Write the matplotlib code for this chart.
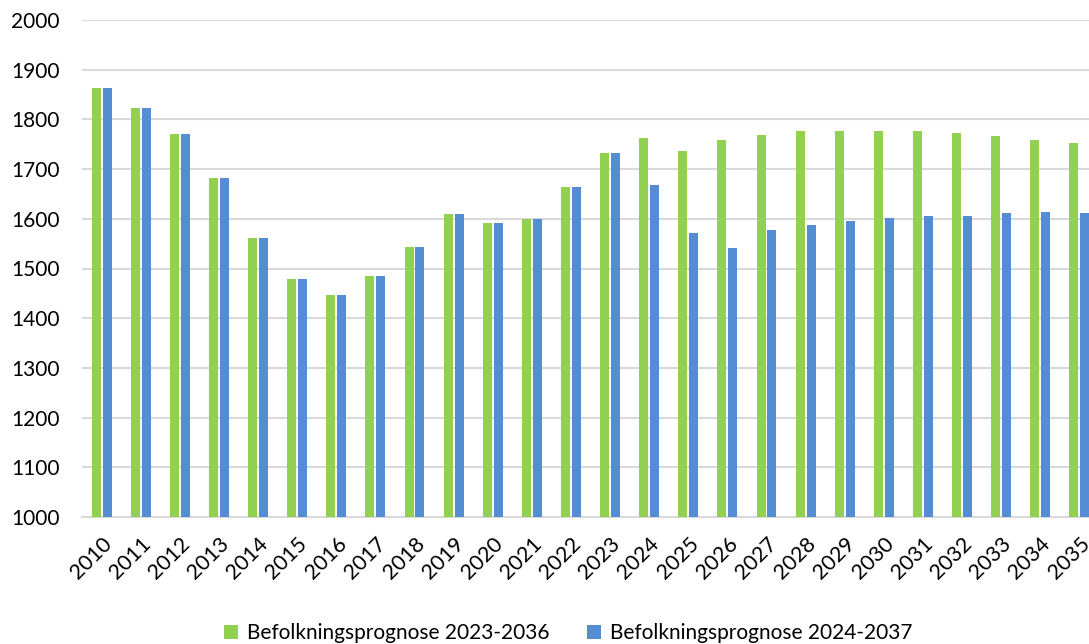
import numpy as np
import matplotlib
matplotlib.use("Agg")
import matplotlib.pyplot as plt

plt.rcParams['font.family'] = ['Lato', 'DejaVu Sans']

# Data
years = [str(y) for y in range(2010, 2036)]
prognose_2023 = [1864, 1822, 1770, 1682, 1561, 1478, 1446, 1484, 1544, 1609,
                 1591, 1599, 1664, 1732, 1762, 1736, 1758, 1768, 1776, 1776,
                 1776, 1776, 1772, 1766, 1758, 1752]
prognose_2024 = [1864, 1822, 1770, 1682, 1561, 1478, 1446, 1484, 1544, 1609,
                 1591, 1599, 1664, 1732, 1669, 1572, 1542, 1578, 1588, 1596,
                 1602, 1606, 1606, 1612, 1614, 1612]

green = '#92D050'
blue = '#548DD4'

fig = plt.figure(figsize=(10.89, 6.44), dpi=100)
# axes runs a bit past the right edge of the figure, like the reference
ax = fig.add_axes([82 / 1089, (644 - 517) / 644, 1017 / 1089, 497 / 644])

x = np.arange(len(years))
w = 0.23
ax.bar(x - 0.14, np.array(prognose_2023) - 1000, width=w, bottom=1000,
       color=green, label='Befolkningsprognose 2023-2036', zorder=3)
ax.bar(x + 0.14, np.array(prognose_2024) - 1000, width=w, bottom=1000,
       color=blue, label='Befolkningsprognose 2024-2037', zorder=3)

ax.set_ylim(1000, 2000)
ax.set_xlim(-0.5, 25.5)
ax.set_yticks(range(1000, 2001, 100))
ax.yaxis.grid(True, color='#D9D9D9', linewidth=1.5, zorder=0)
ax.set_axisbelow(True)

for s in ['top', 'right', 'left']:
    ax.spines[s].set_visible(False)
ax.spines['bottom'].set_color('#D9D9D9')
ax.spines['bottom'].set_linewidth(1.5)

ax.tick_params(axis='both', length=0, labelsize=15, colors='black')
ax.tick_params(axis='y', pad=16)
ax.tick_params(axis='x', pad=12, labelsize=15.5)
ax.set_xticks(x)
ax.set_xticklabels(years, rotation=45, ha='right', rotation_mode='anchor')

fig.legend(loc='lower center', bbox_to_anchor=(568 / 1089, -0.028), ncol=2,
           frameon=False, fontsize=15, handlelength=0.7, handleheight=0.7,
           handletextpad=0.4, columnspacing=1.8)

fig.savefig('out.png', dpi=100)
